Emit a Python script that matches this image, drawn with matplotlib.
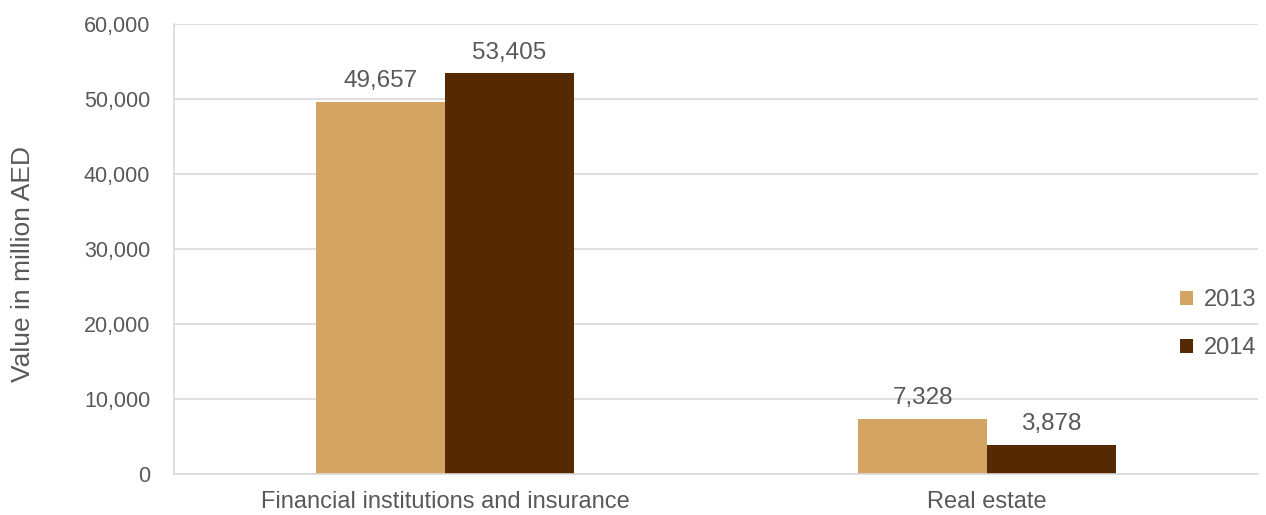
import matplotlib.pyplot as plt
import numpy as np

plt.rcParams['font.family'] = ['Liberation Sans', 'DejaVu Sans']

categories = ['Financial institutions and insurance', 'Real estate']
years = ['2013', '2014']
values_2013 = [49657, 7328]
values_2014 = [53405, 3878]
colors = ['#D4A463', '#552901']
text_color = '#595959'

fig = plt.figure(figsize=(12.66, 5.15), dpi=100)
ax = fig.add_axes([0.1374, 0.0796, 0.8563, 0.8738])

x = np.arange(len(categories))
w = 0.238
b1 = ax.bar(x - w / 2, values_2013, w, color=colors[0], label=years[0], zorder=2)
b2 = ax.bar(x + w / 2, values_2014, w, color=colors[1], label=years[1], zorder=2)

for bars in (b1, b2):
    for r in bars:
        ax.annotate(f'{int(r.get_height()):,}', (r.get_x() + r.get_width() / 2, r.get_height()),
                    xytext=(0, 7), textcoords='offset points', ha='center', va='bottom',
                    fontsize=17.5, color=text_color)

ax.set_xlim(-0.5, 1.5)
ax.set_ylim(0, 60000)
ax.set_yticks(range(0, 60001, 10000))
ax.set_yticklabels([f'{v:,}' for v in range(0, 60001, 10000)])
ax.set_xticks(x)
ax.set_xticklabels(categories)
ax.tick_params(axis='both', length=0, colors=text_color)
ax.tick_params(axis='y', labelsize=15.5, pad=17)
ax.tick_params(axis='x', labelsize=17, pad=12)

ax.grid(axis='y', color='#D9D9D9', linewidth=1.2, zorder=0)
for s in ['top', 'right']:
    ax.spines[s].set_visible(False)
ax.spines['left'].set_color('#D9D9D9')
ax.spines['bottom'].set_color('#D9D9D9')
ax.spines['left'].set_linewidth(1.2)
ax.spines['bottom'].set_linewidth(1.2)

ax.set_ylabel('Value in million AED', fontsize=19, color=text_color)
ax.yaxis.set_label_coords(-0.128, 0.467)

leg = ax.legend(loc='center left', bbox_to_anchor=(0.928, 0.333), frameon=False,
                fontsize=17, handlelength=0.55, handleheight=0.55, handletextpad=0.45,
                labelspacing=1.1, borderpad=0, borderaxespad=0, labelcolor=text_color)

fig.savefig('out.png', dpi=100)
